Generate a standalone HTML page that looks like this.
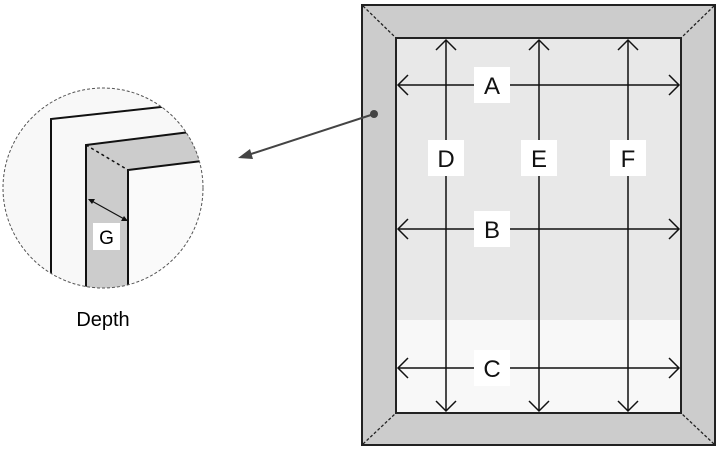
<!DOCTYPE html>
<html><head><style>body{margin:0;background:#fff}svg{display:block}text{font-family:"Liberation Sans",sans-serif}</style></head><body>
<svg width="720" height="450" viewBox="0 0 720 450">
<defs><clipPath id="c"><circle cx="103" cy="188" r="100"/></clipPath></defs>
<circle cx="103" cy="188" r="100" fill="#f8f8f8"/>
<g clip-path="url(#c)" stroke="#111" stroke-width="2" fill="none">
<polygon points="86,145 186,133 210,160 128,170 128,300 86,300" fill="#cccccc" stroke="none"/>
<polygon points="128,170 210,160 210,300 128,300" fill="#fafafa" stroke="none"/>
<polyline points="51,290 51,119 170,106"/>
<polyline points="86,300 86,145 190,132"/>
<polyline points="128,300 128,170 210,160"/>
<line x1="86" y1="145" x2="128" y2="170" stroke-dasharray="3,3" stroke-width="1.5"/>
<line x1="90" y1="200" x2="126" y2="220" stroke-width="1.2"/>
<polygon points="88,199 95,199 92,204" fill="#111" stroke="none"/>
<polygon points="128,221 121,221 124,216" fill="#111" stroke="none"/>
</g>
<circle cx="103" cy="188" r="100" fill="none" stroke="#555" stroke-width="1" stroke-dasharray="3,2"/>
<rect x="93" y="223" width="27" height="27" fill="#fff"/>
<text x="106.5" y="244" font-size="19" text-anchor="middle">G</text>
<text x="103" y="326" font-size="20" text-anchor="middle">Depth</text>
<rect x="362" y="5" width="353" height="440" fill="#cccccc" stroke="#222" stroke-width="2"/>
<rect x="396" y="38" width="285" height="282" fill="#e8e8e8"/>
<rect x="396" y="320" width="285" height="93" fill="#f8f8f8"/>
<rect x="396" y="38" width="285" height="375" fill="none" stroke="#222" stroke-width="2"/>
<g stroke="#222" stroke-width="1.3" stroke-dasharray="3,2"><line x1="363" y1="6" x2="396" y2="38"/><line x1="714" y1="6" x2="681" y2="38"/><line x1="363" y1="444" x2="396" y2="413"/><line x1="714" y1="444" x2="681" y2="413"/></g>
<line x1="374" y1="114" x2="248" y2="155" stroke="#444" stroke-width="2"/>
<circle cx="374" cy="114" r="4" fill="#444"/>
<polygon points="238,158 250,149 253,159" fill="#444"/>
<g stroke="#111" stroke-width="1.5" fill="none">
<line x1="446" y1="40" x2="446" y2="411"/><line x1="539" y1="40" x2="539" y2="411"/><line x1="628" y1="40" x2="628" y2="411"/>
<line x1="398" y1="85" x2="679" y2="85"/><line x1="398" y1="229" x2="679" y2="229"/><line x1="398" y1="368" x2="679" y2="368"/>
<polyline points="436,50 446,40 456,50"/><polyline points="529,50 539,40 549,50"/><polyline points="618,50 628,40 638,50"/>
<polyline points="436,401 446,411 456,401"/><polyline points="529,401 539,411 549,401"/><polyline points="618,401 628,411 638,401"/>
<polyline points="408,75 398,85 408,95"/><polyline points="669,75 679,85 669,95"/>
<polyline points="408,219 398,229 408,239"/><polyline points="669,219 679,229 669,239"/>
<polyline points="408,358 398,368 408,378"/><polyline points="669,358 679,368 669,378"/>
</g>
<g fill="#fff"><rect x="474" y="67" width="36" height="36"/><rect x="428" y="140" width="36" height="36"/><rect x="521" y="140" width="36" height="36"/><rect x="610" y="140" width="36" height="36"/><rect x="474" y="211" width="36" height="36"/><rect x="474" y="350" width="36" height="36"/></g>
<g font-size="24" text-anchor="middle" fill="#111">
<text x="492" y="94">A</text><text x="446" y="167">D</text><text x="539" y="167">E</text><text x="628" y="167">F</text><text x="492" y="238">B</text><text x="492" y="377">C</text>
</g>
</svg>
</body></html>
